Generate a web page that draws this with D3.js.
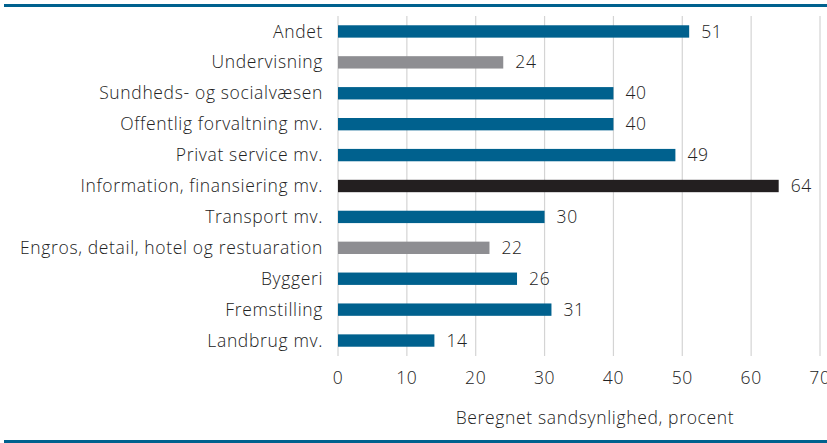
<!DOCTYPE html>
<html><head><meta charset="utf-8">
<script src="https://cdn.jsdelivr.net/npm/d3@7"></script>
<style>
body{margin:0;background:#fff;}
text{font-family:"Open Sans",Roboto,sans-serif;font-weight:300;fill:#222;letter-spacing:0.65px;}
</style></head>
<body><svg id="c" width="827" height="443"></svg>
<script>
const categories = ["Andet","Undervisning","Sundheds- og socialvæsen","Offentlig forvaltning mv.","Privat service mv.","Information, finansiering mv.","Transport mv.","Engros, detail, hotel og restuaration","Byggeri","Fremstilling","Landbrug mv."];
const values = [51,24,40,40,49,64,30,22,26,31,14];
const groups = ["blue","gray","blue","blue","blue","black","blue","gray","blue","blue","blue"];
const xTicks = [0,10,20,30,40,50,60,70];
const axisTitle = "Beregnet sandsynlighed, procent";

const colors = {blue:"#00618E", gray:"#8E8E92", black:"#231F20"};
const fs = 17.5;
const svg = d3.select("#c");
const x = d3.scaleLinear().domain([0,70]).range([338,820]);
const y = d3.scaleBand().domain(categories).range([16,356]).paddingInner(0.6).paddingOuter(0.3);

svg.append("rect").attr("x",4).attr("y",4).attr("width",823).attr("height",3).attr("fill","#00618E");
svg.append("rect").attr("x",4).attr("y",440).attr("width",823).attr("height",3).attr("fill","#00618E");

svg.append("g").selectAll("line").data(xTicks).join("line")
  .attr("x1",d=>x(d)).attr("x2",d=>x(d)).attr("y1",16).attr("y2",356)
  .attr("stroke","#d4d4d4").attr("stroke-width",1.2);

svg.append("g").selectAll("rect").data(categories).join("rect")
  .attr("x",x(0)).attr("y",d=>y(d)).attr("height",y.bandwidth())
  .attr("width",(d,i)=>x(values[i])-x(0)).attr("fill",(d,i)=>colors[groups[i]]);

svg.append("g").selectAll("text").data(categories).join("text")
  .attr("x",323).attr("y",d=>y(d)+y.bandwidth()/2).attr("dy","0.35em")
  .attr("text-anchor","end").attr("font-size",fs).text(d=>d);

svg.append("g").selectAll("text").data(categories).join("text")
  .attr("x",(d,i)=>x(values[i])+12).attr("y",d=>y(d)+y.bandwidth()/2).attr("dy","0.35em")
  .attr("font-size",fs).text((d,i)=>values[i]);

svg.append("g").selectAll("text").data(xTicks).join("text")
  .attr("x",d=>x(d)).attr("y",378).attr("dy","0.35em").attr("text-anchor","middle")
  .attr("font-size",fs).text(d=>d);

svg.append("text").attr("x",595).attr("y",424).attr("text-anchor","middle")
  .attr("font-size",fs).text(axisTitle);
</script></body></html>
